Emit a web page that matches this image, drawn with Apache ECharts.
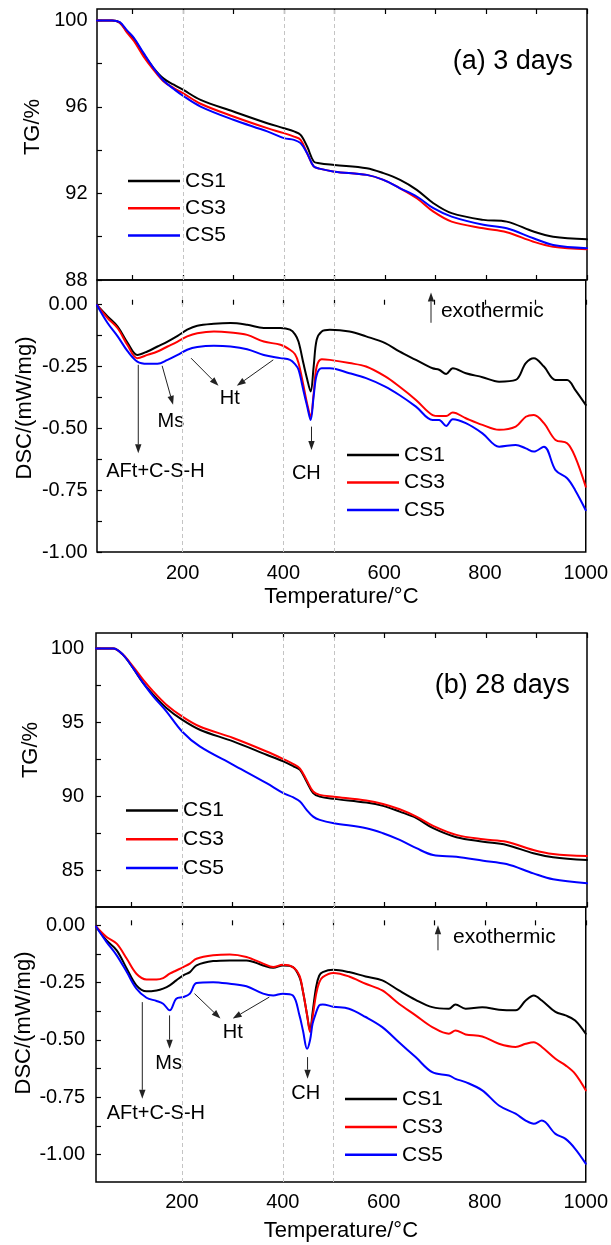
<!DOCTYPE html>
<html><head><meta charset="utf-8">
<script src="https://cdn.jsdelivr.net/npm/echarts@6/dist/echarts.min.js"></script>
<style>html,body{margin:0;padding:0;background:#fff}#c{width:611px;height:1245px}</style>
</head><body><div id="c"></div>
<script>
// ---------- DATA ----------
const seriesNames = ['CS1', 'CS3', 'CS5'];
const xTickValues = [100, 200, 300, 400, 500, 600, 700, 800, 900, 1000];
const xLabelValues = [200, 400, 600, 800, 1000];
const refLineValues = [200, 400, 500];

const tgA_T   = [30,60,75,89,103,122,142,162,182,200,235,300,367,400,420,433,446,459,470,500,564,597,630,663,696,732,795,841,894,933,1000];
const tgA_CS1 = [100,100,99.9,99.5,99.15,98.45,97.80,97.31,97.03,96.80,96.33,95.79,95.25,95.02,94.87,94.71,94.17,93.48,93.40,93.32,93.17,92.94,92.63,92.17,91.55,91.09,90.78,90.70,90.24,90.00,89.88];
const tgA_CS3 = [100,100,99.9,99.45,99.05,98.34,97.72,97.18,96.87,96.64,96.15,95.56,95.02,94.79,94.63,94.48,93.86,93.25,93.15,93.01,92.86,92.63,92.24,91.78,91.16,90.70,90.39,90.21,89.77,89.54,89.42];
const tgA_CS5 = [100,100,99.92,99.55,99.2,98.5,97.80,97.21,96.83,96.52,96.02,95.41,94.87,94.56,94.48,94.33,93.86,93.25,93.15,93.01,92.86,92.63,92.24,91.86,91.32,90.93,90.55,90.39,89.93,89.62,89.47];

const dscA_T   = [30,51,71,91,110,130,150,170,190,209,229,262,295,328,361,394,413,423,430,440,447,454,460,466,476,492,531,564,602,630,663,696,709,723,736,762,795,828,861,881,897,917,940,963,979,1000];
const dscA_CS1 = [-0.002,-0.047,-0.088,-0.155,-0.203,-0.189,-0.169,-0.149,-0.126,-0.101,-0.085,-0.077,-0.074,-0.081,-0.094,-0.094,-0.101,-0.12,-0.15,-0.24,-0.30,-0.351,-0.25,-0.142,-0.108,-0.101,-0.108,-0.128,-0.155,-0.189,-0.223,-0.257,-0.263,-0.28,-0.257,-0.277,-0.293,-0.311,-0.304,-0.236,-0.216,-0.25,-0.304,-0.304,-0.344,-0.405];
const dscA_CS3 = [-0.002,-0.054,-0.095,-0.165,-0.216,-0.203,-0.189,-0.169,-0.149,-0.128,-0.115,-0.108,-0.112,-0.122,-0.149,-0.162,-0.182,-0.20,-0.236,-0.33,-0.40,-0.452,-0.36,-0.25,-0.22,-0.223,-0.236,-0.25,-0.29,-0.331,-0.385,-0.446,-0.45,-0.45,-0.436,-0.459,-0.486,-0.506,-0.493,-0.453,-0.446,-0.479,-0.547,-0.56,-0.615,-0.736];
const dscA_CS5 = [-0.002,-0.074,-0.128,-0.189,-0.23,-0.239,-0.239,-0.223,-0.203,-0.182,-0.171,-0.166,-0.169,-0.18,-0.203,-0.216,-0.223,-0.24,-0.263,-0.35,-0.41,-0.466,-0.37,-0.284,-0.257,-0.257,-0.277,-0.297,-0.331,-0.365,-0.412,-0.466,-0.466,-0.49,-0.463,-0.479,-0.52,-0.574,-0.567,-0.581,-0.594,-0.574,-0.669,-0.702,-0.75,-0.831];

const tgB_T   = [30,64,83,103,123,143,169,200,235,301,367,400,420,433,446,459,472,500,564,597,630,663,696,742,795,841,894,933,1000];
const tgB_CS1 = [100,100,99.59,98.69,97.68,96.89,95.99,95.20,94.52,93.73,92.83,92.38,92.05,91.81,91.02,90.24,90.0,89.85,89.6,89.38,88.99,88.55,87.87,87.26,86.96,86.74,86.18,85.91,85.72];
const tgB_CS3 = [100,100,99.6,98.80,97.90,97.11,96.21,95.42,94.74,93.96,93.05,92.54,92.2,91.9,91.13,90.35,90.12,90.0,89.74,89.51,89.15,88.65,88.03,87.42,87.12,86.96,86.40,86.13,85.99];
const tgB_CS5 = [100,100,99.59,98.69,97.68,96.77,95.76,94.40,93.39,92.15,90.91,90.24,89.95,89.67,89.11,88.65,88.43,88.21,87.87,87.53,87.08,86.52,86.06,85.95,85.68,85.45,84.82,84.42,84.15];

const dscB_T   = [30,51,71,91,110,130,150,163,176,189,203,216,229,262,295,328,361,381,400,420,433,440,448,454,459,466,472,479,500,531,564,597,630,663,696,729,742,762,795,828,861,881,897,913,940,960,979,1000];
const dscB_CS1 = [-0.005,-0.066,-0.109,-0.189,-0.262,-0.288,-0.284,-0.276,-0.262,-0.24,-0.218,-0.204,-0.175,-0.156,-0.153,-0.153,-0.175,-0.185,-0.175,-0.182,-0.226,-0.29,-0.39,-0.459,-0.38,-0.269,-0.22,-0.204,-0.194,-0.204,-0.223,-0.24,-0.284,-0.325,-0.357,-0.364,-0.345,-0.364,-0.357,-0.368,-0.371,-0.328,-0.306,-0.328,-0.378,-0.393,-0.415,-0.473];
const dscB_CS3 = [-0.005,-0.051,-0.08,-0.146,-0.211,-0.236,-0.236,-0.23,-0.211,-0.197,-0.182,-0.167,-0.146,-0.131,-0.127,-0.138,-0.167,-0.182,-0.172,-0.182,-0.22,-0.29,-0.39,-0.466,-0.40,-0.30,-0.25,-0.226,-0.208,-0.223,-0.255,-0.284,-0.342,-0.393,-0.444,-0.473,-0.459,-0.476,-0.485,-0.517,-0.531,-0.517,-0.51,-0.531,-0.582,-0.611,-0.648,-0.72];
const dscB_CS5 = [-0.005,-0.073,-0.131,-0.204,-0.276,-0.316,-0.33,-0.342,-0.371,-0.32,-0.313,-0.298,-0.252,-0.248,-0.255,-0.266,-0.298,-0.306,-0.298,-0.306,-0.393,-0.46,-0.539,-0.50,-0.429,-0.38,-0.349,-0.345,-0.355,-0.364,-0.4,-0.444,-0.51,-0.575,-0.641,-0.655,-0.67,-0.684,-0.72,-0.786,-0.822,-0.852,-0.866,-0.852,-0.91,-0.932,-0.975,-1.04];

const tgA_ticks  = [88, 90, 92, 94, 96, 98, 100];
const tgA_labels = [88, 92, 96, 100];
const dscA_ticks  = [-1, -0.875, -0.75, -0.625, -0.5, -0.375, -0.25, -0.125, 0];
const dscA_labels = [-1, -0.75, -0.5, -0.25, 0];
const tgB_ticks  = [85, 87.5, 90, 92.5, 95, 97.5, 100];
const tgB_labels = [85, 90, 95, 100];
const dscB_ticks  = [-1, -0.875, -0.75, -0.625, -0.5, -0.375, -0.25, -0.125, 0];
const dscB_labels = [-1, -0.75, -0.5, -0.25, 0];

// ---------- STYLE / LAYOUT ----------
const FONT = "'Liberation Sans', Arial, Helvetica, sans-serif";
const COLORS = ['#000000', '#ff0000', '#0000ff'];

const chart = echarts.init(document.getElementById('c'), null, {renderer: 'canvas'});

function gridDef(left, top, height) {
  return {left: left, right: 24, top: top, height: height, show: true,
          borderColor: '#000', borderWidth: 1.5, backgroundColor: 'transparent', containLabel: false};
}
function xAxisDef(gridIndex, position, showLabel, name, nameGap, labelMargin) {
  return {
    type: 'value', gridIndex: gridIndex, position: position, min: 30, max: 1000,
    axisLine: {show: false},
    axisTick: {show: true, inside: true, length: 5, customValues: xTickValues, lineStyle: {color: '#000', width: 1.2}},
    axisLabel: {show: showLabel, customValues: xLabelValues, margin: labelMargin || 10, fontSize: 20, color: '#000', fontFamily: FONT,
                formatter: function (v) { return String(Math.round(v)); }},
    splitLine: {show: false},
    name: name || '', nameLocation: 'middle', nameGap: nameGap || 30,
    nameTextStyle: {fontSize: 22, color: '#000', fontFamily: FONT}
  };
}
function yAxisDef(gridIndex, min, max, ticks, labels, decimals, margin) {
  return {
    type: 'value', gridIndex: gridIndex, min: min, max: max,
    axisLine: {show: false},
    axisTick: {show: true, inside: true, length: 5, customValues: ticks, lineStyle: {color: '#000', width: 1.2}},
    axisLabel: {customValues: labels, margin: margin, fontSize: 20, color: '#000', fontFamily: FONT,
                formatter: function (v) { return decimals ? Number(v).toFixed(decimals) : String(Math.round(v)); }},
    splitLine: {show: false}
  };
}
function lineSeries(name, color, xi, yi, T, V, withRef) {
  const s = {
    type: 'line', name: name, xAxisIndex: xi, yAxisIndex: yi,
    data: T.map(function (t, i) { return [t, V[i]]; }),
    symbol: 'none', showSymbol: false, smooth: 0.35,
    lineStyle: {color: color, width: 2, cap: 'round', join: 'round'}, itemStyle: {color: color}, animation: false
  };
  if (withRef) {
    s.markLine = {silent: true, symbol: 'none', animation: false, label: {show: false},
      lineStyle: {color: '#c4c4c4', type: [4, 3], width: 1},
      data: refLineValues.map(function (v) { return {xAxis: v}; })};
  }
  return s;
}
function legendDef(left, top, gap) {
  return {left: left, top: top, orient: 'vertical', icon: 'rect', itemWidth: 52, itemHeight: 2.5,
          itemGap: gap, padding: 0, selectedMode: false, data: seriesNames,
          textStyle: {fontSize: 21, color: '#000', fontFamily: FONT, lineHeight: 22}};
}

const panels = [
  {T: tgA_T, V: [tgA_CS1, tgA_CS3, tgA_CS5], x: 0, y: 0},
  {T: dscA_T, V: [dscA_CS1, dscA_CS3, dscA_CS5], x: 2, y: 1},
  {T: tgB_T, V: [tgB_CS1, tgB_CS3, tgB_CS5], x: 3, y: 2},
  {T: dscB_T, V: [dscB_CS1, dscB_CS3, dscB_CS5], x: 5, y: 3}
];
const series = [];
panels.forEach(function (p) {
  seriesNames.forEach(function (n, k) {
    series.push(lineSeries(n, COLORS[k], p.x, p.y, p.T, p.V[k], k === 0));
  });
});

chart.setOption({
  backgroundColor: '#fff',
  animation: false,
  textStyle: {fontFamily: FONT},
  grid: [gridDef(97, 9, 271), gridDef(97, 280, 272), gridDef(96, 633, 274), gridDef(96, 907, 275)],
  xAxis: [
    xAxisDef(0, 'bottom', false), xAxisDef(0, 'top', false),
    xAxisDef(1, 'bottom', true, 'Temperature/°C', 34, 11),
    xAxisDef(2, 'bottom', false), xAxisDef(2, 'top', false),
    xAxisDef(3, 'bottom', true, 'Temperature/°C', 38, 10)
  ],
  yAxis: [
    yAxisDef(0, 88, 100.53, tgA_ticks, tgA_labels, 0, 9.5),
    yAxisDef(1, -1, 0.1, dscA_ticks, dscA_labels, 2, 9.5),
    yAxisDef(2, 82.55, 101.05, tgB_ticks, tgB_labels, 0, 12),
    yAxisDef(3, -1.12, 0.08, dscB_ticks, dscB_labels, 2, 11)
  ],
  legend: [legendDef(128, 170, 5.3), legendDef(347, 444, 5.5), legendDef(126, 799.5, 6.8), legendDef(345, 1088, 5.9)],
  series: series
});

// ---------- ANNOTATIONS (placed in data coordinates) ----------
function P(g, x, y) { return chart.convertToPixel({gridIndex: g}, [x, y]); }
function arrowEls(p1, p2) {
  const dx = p2[0] - p1[0], dy = p2[1] - p1[1];
  const L = Math.hypot(dx, dy), ux = dx / L, uy = dy / L;
  const hl = 9, hw = 3.2;
  const bx = p2[0] - ux * hl, by = p2[1] - uy * hl;
  return [
    {type: 'line', silent: true, shape: {x1: p1[0], y1: p1[1], x2: bx, y2: by}, style: {stroke: '#222', lineWidth: 1}},
    {type: 'polygon', silent: true, shape: {points: [[p2[0], p2[1]], [bx - uy * hw, by + ux * hw], [bx + uy * hw, by - ux * hw]]}, style: {fill: '#222'}}
  ];
}
function textEl(p, text, size, align, rot) {
  return {type: 'text', silent: true, x: p[0], y: p[1], rotation: rot || 0,
          style: {text: text, fontSize: size, fontFamily: FONT, fill: '#000', align: align || 'center', verticalAlign: 'middle'}};
}
const G = [];
function arrow(g, a, b) { arrowEls(P(g, a[0], a[1]), P(g, b[0], b[1])).forEach(function (e) { G.push(e); }); }
function label(g, at, text, size, align) { G.push(textEl(P(g, at[0], at[1]), text, size, align)); }

// (a) 3 days
label(0, [972, 98.11], '(a) 3 days', 27, 'right');
arrow(1, [111.9, -0.243], [111.9, -0.601]); label(1, [146, -0.675], 'AFt+C-S-H', 20);
arrow(1, [159.3, -0.247], [181, -0.405]);   label(1, [176.7, -0.473], 'Ms', 20);
arrow(1, [216.6, -0.216], [271.1, -0.328]); arrow(1, [379.8, -0.223], [307.5, -0.328]);
label(1, [293.7, -0.378], 'Ht', 20);
arrow(1, [455.7, -0.493], [455.7, -0.588]); label(1, [445.5, -0.682], 'CH', 20);
arrow(1, [692.9, -0.073], [692.9, 0.049]);  label(1, [712.6, -0.027], 'exothermic', 21, 'left');
// (b) 28 days
label(2, [966, 97.5], '(b) 28 days', 27, 'right');
arrow(3, [121.7, -0.335], [121.7, -0.757]); label(3, [148.6, -0.822], 'AFt+C-S-H', 20);
arrow(3, [175.7, -0.393], [175.7, -0.538]); label(3, [173.7, -0.604], 'Ms', 20);
arrow(3, [225.1, -0.298], [276.5, -0.407]); arrow(3, [373.3, -0.313], [300.8, -0.407]);
label(3, [300.8, -0.466], 'Ht', 20);
arrow(3, [449, -0.575], [449, -0.669]);     label(3, [445.5, -0.732], 'CH', 20);
arrow(3, [707.3, -0.109], [707.3, 0]);      label(3, [737, -0.051], 'exothermic', 21, 'left');

// rotated y-axis titles
G.push(textEl([33, 127], 'TG/%', 22, 'center', Math.PI / 2));
G.push(textEl([25, 408], 'DSC/(mW/mg)', 22, 'center', Math.PI / 2));
G.push(textEl([31, 750], 'TG/%', 22, 'center', Math.PI / 2));
G.push(textEl([24, 1023], 'DSC/(mW/mg)', 22, 'center', Math.PI / 2));

chart.setOption({graphic: G});
</script>
</body></html>
